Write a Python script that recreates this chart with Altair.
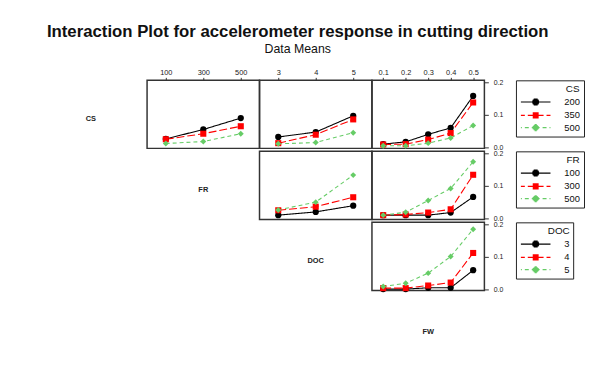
import json
import math
import altair as alt
import pandas as pd

# ---------------- data ----------------
CS_LEVELS = ["200", "350", "500"]
FR_LEVELS = ["100", "300", "500"]
DOC_LEVELS = ["3", "4", "5"]

FR_X = [100, 300, 500]
DOC_X = [3, 4, 5]
FW_X = [0.1, 0.2, 0.3, 0.4, 0.5]

# CS traces
CS_BY_FR = {"200": [0.026, 0.055, 0.090], "350": [0.025, 0.042, 0.065], "500": [0.012, 0.018, 0.042]}
CS_BY_DOC = {"200": [0.032, 0.047, 0.097], "350": [0.013, 0.039, 0.086], "500": [0.011, 0.015, 0.045]}
CS_BY_FW = {"200": [0.010, 0.017, 0.040, 0.060, 0.158],
            "350": [0.009, 0.010, 0.024, 0.044, 0.138],
            "500": [0.005, 0.005, 0.013, 0.029, 0.067]}
# FR traces
FR_BY_DOC = {"100": [0.010, 0.020, 0.039], "300": [0.025, 0.036, 0.065], "500": [0.026, 0.050, 0.133]}
FR_BY_FW = {"100": [0.010, 0.010, 0.010, 0.018, 0.066],
            "300": [0.010, 0.012, 0.018, 0.028, 0.134],
            "500": [0.010, 0.019, 0.055, 0.092, 0.174]}
# DOC traces
DOC_BY_FW = {"3": [0.001, 0.001, 0.005, 0.005, 0.059],
             "4": [0.004, 0.004, 0.012, 0.021, 0.112],
             "5": [0.009, 0.019, 0.050, 0.101, 0.185]}

Y_TICKS = [0.0, 0.1, 0.2]

# ---------------- styling ----------------
FONT = "Liberation Sans"
COLORS = ["#000000", "#FF0000", "#66CC66"]
DASHES = [[1, 0], [8, 3], [4, 3]]
SHAPES = ["circle", "square", "diamond"]
SIZES = [40, 36, 60]
KEYS = ["k0", "k1", "k2"]          # style keys (separate from legend field)
W, H = 114, 69
H_LAST = 48
YDOM = [-0.003, 0.206]
BORDER = "#333333"


# legend symbol = line segment + marker drawn with stroke hatching (units: 1 = 5px)
def _seg(y, w):
    return f"M0,{y:.2f}L{w:.2f},{y:.2f}M0,{y:.2f}L{-w:.2f},{y:.2f}"


def _hatch(rows):
    return _seg(0, 3) + "".join(_seg(y, w) for y, w in rows)


_ys7 = [-0.6, -0.4, -0.2, 0.0, 0.2, 0.4, 0.6]
LEG_PATHS = [
    _hatch([(y, math.sqrt(0.72 ** 2 - y ** 2)) for y in _ys7]),
    _hatch([(y, 0.6) for y in [-0.5, -0.3, -0.1, 0.1, 0.3, 0.5]]),
    _hatch([(y, 0.82 - abs(y)) for y in _ys7]),
]


def pick(levels, arr):
    return "[" + ",".join(json.dumps(a) for a in arr) + "][indexof(" + json.dumps(levels) + ", datum.value)]"


def make_legend(title, levels):
    return alt.Legend(
        title=title, orient="right", symbolSize=100, symbolOffset=10.5, labelOffset=23,
        symbolStrokeWidth=1.2, titleAnchor="end", titleFont=FONT, titleFontSize=10,
        titleFontWeight="normal", titleColor="#111", labelFont=FONT, labelFontSize=9.5,
        labelColor="#111", strokeColor="#222", fillColor="white", padding=3.5,
        rowPadding=1.5, titlePadding=2.5, offset=12,
        symbolType={"expr": pick(levels, LEG_PATHS)},
        symbolStrokeColor={"expr": pick(levels, COLORS)},
        symbolDash={"expr": pick(levels, DASHES)},
        symbolFillColor="transparent",
        symbolOpacity=1,
    )


def panel(title, levels, xs, table, xdom, xfmt, top_axis, right_axis):
    rows = [{"x": x, "y": v, "lvl": lvl, "k": KEYS[i]}
            for i, lvl in enumerate(levels) for x, v in zip(xs, table[lvl])]
    df = pd.DataFrame(rows)
    xaxis = alt.Axis(orient="top", values=xs, format=xfmt, tickSize=3, labelFontSize=7.5,
                     labelPadding=1, domain=False, grid=False, title=None) if top_axis else None
    yaxis = alt.Axis(orient="right", values=Y_TICKS, format=".1f", tickSize=4, labelFontSize=7,
                     labelPadding=5, domain=False, grid=False, title=None, labelOverlap=False,
                     labelFlush=False, labelBound=False) if right_axis else None
    base = alt.Chart(df).encode(
        x=alt.X("x:Q", scale=alt.Scale(domain=xdom, nice=False, zero=False), axis=xaxis),
        y=alt.Y("y:Q", scale=alt.Scale(domain=YDOM, nice=False, zero=False), axis=yaxis),
    )
    line = base.mark_line(strokeWidth=1.1).encode(
        color=alt.Color("lvl:N", scale=alt.Scale(domain=levels, range=COLORS),
                        legend=make_legend(title, levels)),
        strokeDash=alt.StrokeDash("k:N", scale=alt.Scale(domain=KEYS, range=DASHES), legend=None),
    )
    pts = base.mark_point(filled=True, opacity=1).encode(
        color=alt.Color("lvl:N", scale=alt.Scale(domain=levels, range=COLORS), legend=None),
        shape=alt.Shape("k:N", scale=alt.Scale(domain=KEYS, range=SHAPES), legend=None),
        size=alt.Size("k:N", scale=alt.Scale(domain=KEYS, range=SIZES), legend=None),
    )
    return alt.layer(line, pts).properties(
        width=W, height=H, view=alt.ViewBackground(stroke=BORDER, strokeWidth=1.5)
    )


def blank(h=H):
    return alt.Chart(pd.DataFrame({"t": [""]})).mark_text().encode(text="t:N").properties(width=W, height=h)


def label_cell(name, h=H):
    return alt.Chart(pd.DataFrame({"t": [name]})).mark_text(
        font=FONT, fontSize=7.5, fontWeight="bold", color="#222", align="center", baseline="middle"
    ).encode(text="t:N", x=alt.value(W / 2), y=alt.value(H / 2 + 5)).properties(width=W, height=h)


FRD = [0, 600]
DOCD = [2.5, 5.5]
FWD = [0.05, 0.55]

row0 = alt.hconcat(
    label_cell("CS"),
    panel("CS", CS_LEVELS, FR_X, CS_BY_FR, FRD, "d", True, False),
    panel("CS", CS_LEVELS, DOC_X, CS_BY_DOC, DOCD, "d", True, False),
    panel("CS", CS_LEVELS, FW_X, CS_BY_FW, FWD, ".1f", True, True),
    spacing=0, bounds="flush",
)
row1 = alt.hconcat(
    blank(), label_cell("FR"),
    panel("FR", FR_LEVELS, DOC_X, FR_BY_DOC, DOCD, "d", False, False),
    panel("FR", FR_LEVELS, FW_X, FR_BY_FW, FWD, ".1f", False, True),
    spacing=0, bounds="flush",
)
row2 = alt.hconcat(
    blank(), blank(), label_cell("DOC"),
    panel("DOC", DOC_LEVELS, FW_X, DOC_BY_FW, FWD, ".1f", False, True),
    spacing=0, bounds="flush",
)
row3 = alt.hconcat(
    blank(H_LAST), blank(H_LAST), blank(H_LAST), label_cell("FW", H_LAST),
    spacing=0, bounds="flush",
)

chart = alt.vconcat(
    row0, row1, row2, row3, spacing=-6,
    title=alt.TitleParams(
        text="Interaction Plot for accelerometer response in cutting direction",
        subtitle="Data Means", font=FONT, fontSize=17, fontWeight="bold", color="#111",
        subtitleFont=FONT, subtitleFontSize=12.5, subtitleColor="#111", subtitlePadding=2,
        anchor="middle", offset=11.4, dx=-12,
    ),
).resolve_scale(
    color="independent", shape="independent", strokeDash="independent", size="independent"
).properties(
    padding={"left": 27, "top": 13, "right": 0, "bottom": 0}
).configure_view(stroke=None).configure_axis(
    labelFont=FONT, labelColor="#222", tickColor=BORDER, tickWidth=1
)

chart.save("out.html", embed_options={"renderer": "svg", "actions": False})
